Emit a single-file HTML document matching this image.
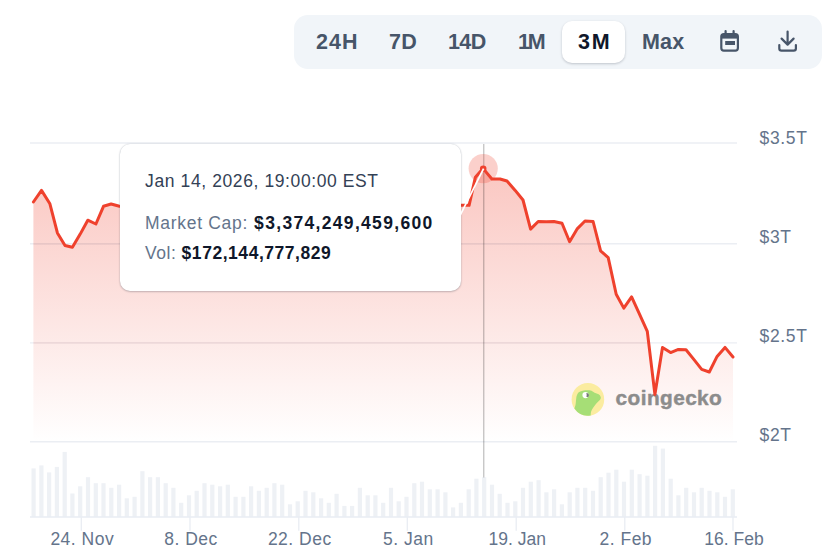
<!DOCTYPE html>
<html><head><meta charset="utf-8"><title>Chart</title>
<style>
html,body{margin:0;padding:0;background:#fff;}
body{width:836px;height:553px;position:relative;overflow:hidden;font-family:"Liberation Sans",sans-serif;}
.bar{position:absolute;left:294px;top:15px;width:528px;height:54px;background:#f1f5f9;border-radius:14px;}
.bar span{position:absolute;top:0;height:54px;line-height:54px;font-size:21.5px;font-weight:bold;color:#475569;white-space:nowrap;letter-spacing:0.2px;}
.pill{position:absolute;left:268px;top:6px;width:63px;height:42px;background:#fff;border-radius:10px;box-shadow:0 1px 3px rgba(15,23,42,.14),0 1px 2px rgba(15,23,42,.08);}
.tip{position:absolute;left:120.1px;top:144.3px;width:340.6px;height:146.4px;background:#fff;border-radius:10px;box-shadow:0 1px 2px rgba(15,23,42,.20),0 0 1.5px rgba(71,85,105,.30);}
.tip div{position:absolute;white-space:nowrap;font-size:17.5px;color:#64748b;}
.tip b{color:#0f172a;}
svg{position:absolute;left:0;top:0;}
svg text{font-family:"Liberation Sans",sans-serif;}
</style></head><body>
<div class="bar">
<div class="pill"></div>
<span style="left:22px;letter-spacing:1.1px">24H</span>
<span style="left:95px">7D</span>
<span style="left:154px;letter-spacing:-0.6px">14D</span>
<span style="left:224px;letter-spacing:-2.1px">1M</span>
<span style="left:284px;color:#0f172a;letter-spacing:1.8px">3M</span>
<span style="left:348px">Max</span>
</div>
<svg width="836" height="553" viewBox="0 0 836 553">
<defs><linearGradient id="g" x1="0" y1="0" x2="0" y2="1" gradientUnits="userSpaceOnUse" >
<stop offset="0" stop-color="#f04a38" stop-opacity="0.30"/><stop offset="1" stop-color="#f04a38" stop-opacity="0.02"/></linearGradient>
<linearGradient id="g2" x1="0" y1="143" x2="0" y2="442" gradientUnits="userSpaceOnUse">
<stop offset="0" stop-color="#f04a38" stop-opacity="0.34"/><stop offset="1" stop-color="#f04a38" stop-opacity="0"/></linearGradient>
<clipPath id="ac"><path d="M33.4 202.0 L41.5 190.4 L49.9 203.8 L57.4 232.9 L65.0 245.5 L72.4 247.3 L80.2 234.1 L87.8 220.2 L95.9 224.0 L103.5 206.3 L111.1 204.0 L119.4 206.3 L150.0 207.4 L200.0 206.4 L300.0 205.4 L400.0 205.4 L460.2 205.3 L469.1 205.3 L475.4 177.2 L483.0 168.4 L491.9 179.0 L500.0 179.0 L507.0 181.0 L515.2 190.4 L523.0 200.0 L530.6 229.1 L538.2 221.5 L546.3 221.7 L553.9 221.5 L562.0 223.3 L569.6 241.7 L577.4 228.6 L585.0 221.0 L593.1 221.5 L600.6 250.8 L608.2 257.6 L616.2 294.2 L623.8 308.1 L631.6 296.9 L639.6 314.4 L647.3 331.4 L654.9 394.4 L662.5 347.4 L670.6 352.6 L678.4 349.4 L686.0 349.7 L694.0 359.6 L701.7 369.4 L709.3 372.0 L717.1 356.4 L725.0 347.4 L733.0 357.0 L733.0 441 L33.4 441 Z"/></clipPath></defs>
<g stroke="#ebeef3" fill="none"><path d="M30 142.9H737" stroke-width="1.5"/><path d="M30 243.8H737" stroke-width="1.5"/><path d="M30 342.9H737" stroke-width="1.2"/><path d="M30 441.8H737" stroke-width="1.5"/></g>
<path d="M33.4 202.0 L41.5 190.4 L49.9 203.8 L57.4 232.9 L65.0 245.5 L72.4 247.3 L80.2 234.1 L87.8 220.2 L95.9 224.0 L103.5 206.3 L111.1 204.0 L119.4 206.3 L150.0 207.4 L200.0 206.4 L300.0 205.4 L400.0 205.4 L460.2 205.3 L469.1 205.3 L475.4 177.2 L483.0 168.4 L491.9 179.0 L500.0 179.0 L507.0 181.0 L515.2 190.4 L523.0 200.0 L530.6 229.1 L538.2 221.5 L546.3 221.7 L553.9 221.5 L562.0 223.3 L569.6 241.7 L577.4 228.6 L585.0 221.0 L593.1 221.5 L600.6 250.8 L608.2 257.6 L616.2 294.2 L623.8 308.1 L631.6 296.9 L639.6 314.4 L647.3 331.4 L654.9 394.4 L662.5 347.4 L670.6 352.6 L678.4 349.4 L686.0 349.7 L694.0 359.6 L701.7 369.4 L709.3 372.0 L717.1 356.4 L725.0 347.4 L733.0 357.0 L733.0 441 L33.4 441 Z" fill="url(#g2)"/>
<g stroke="#e3c3c3" stroke-width="1.2" fill="none" clip-path="url(#ac)"><path d="M33.4 243.8H733" opacity="0.6"/><path d="M33.4 342.9H733" opacity="0.35"/></g>
<g fill="#eef1f5"><rect x="31.5" y="468.4" width="4.2" height="48.5"/><rect x="39.3" y="465.4" width="4.2" height="51.5"/><rect x="47.0" y="472.4" width="4.2" height="44.5"/><rect x="54.8" y="466.9" width="4.2" height="50.0"/><rect x="62.6" y="451.9" width="4.2" height="65.0"/><rect x="70.3" y="493.5" width="4.2" height="23.4"/><rect x="78.1" y="486.3" width="4.2" height="30.6"/><rect x="85.9" y="477.2" width="4.2" height="39.7"/><rect x="93.7" y="483.2" width="4.2" height="33.7"/><rect x="101.4" y="483.2" width="4.2" height="33.7"/><rect x="109.2" y="487.8" width="4.2" height="29.1"/><rect x="117.0" y="484.7" width="4.2" height="32.2"/><rect x="124.7" y="498.3" width="4.2" height="18.6"/><rect x="132.5" y="496.8" width="4.2" height="20.1"/><rect x="140.3" y="471.2" width="4.2" height="45.7"/><rect x="148.0" y="477.2" width="4.2" height="39.7"/><rect x="155.8" y="477.2" width="4.2" height="39.7"/><rect x="163.6" y="483.2" width="4.2" height="33.7"/><rect x="171.3" y="487.8" width="4.2" height="29.1"/><rect x="179.1" y="502.8" width="4.2" height="14.1"/><rect x="186.9" y="495.3" width="4.2" height="21.6"/><rect x="194.6" y="490.8" width="4.2" height="26.1"/><rect x="202.4" y="483.2" width="4.2" height="33.7"/><rect x="210.2" y="484.7" width="4.2" height="32.2"/><rect x="218.0" y="486.3" width="4.2" height="30.6"/><rect x="225.7" y="484.7" width="4.2" height="32.2"/><rect x="233.5" y="496.8" width="4.2" height="20.1"/><rect x="241.3" y="496.8" width="4.2" height="20.1"/><rect x="249.0" y="486.3" width="4.2" height="30.6"/><rect x="256.8" y="490.8" width="4.2" height="26.1"/><rect x="264.6" y="487.8" width="4.2" height="29.1"/><rect x="272.3" y="483.2" width="4.2" height="33.7"/><rect x="280.1" y="484.7" width="4.2" height="32.2"/><rect x="287.9" y="504.3" width="4.2" height="12.6"/><rect x="295.6" y="501.3" width="4.2" height="15.6"/><rect x="303.4" y="490.8" width="4.2" height="26.1"/><rect x="311.2" y="492.3" width="4.2" height="24.6"/><rect x="319.0" y="498.3" width="4.2" height="18.6"/><rect x="326.7" y="502.8" width="4.2" height="14.1"/><rect x="334.5" y="493.8" width="4.2" height="23.1"/><rect x="342.3" y="505.9" width="4.2" height="11.0"/><rect x="350.0" y="505.9" width="4.2" height="11.0"/><rect x="357.8" y="487.8" width="4.2" height="29.1"/><rect x="365.6" y="495.3" width="4.2" height="21.6"/><rect x="373.3" y="495.3" width="4.2" height="21.6"/><rect x="381.1" y="502.8" width="4.2" height="14.1"/><rect x="388.9" y="487.8" width="4.2" height="29.1"/><rect x="396.6" y="501.3" width="4.2" height="15.6"/><rect x="404.4" y="496.8" width="4.2" height="20.1"/><rect x="412.2" y="483.2" width="4.2" height="33.7"/><rect x="419.9" y="481.7" width="4.2" height="35.2"/><rect x="427.7" y="489.3" width="4.2" height="27.6"/><rect x="435.5" y="489.3" width="4.2" height="27.6"/><rect x="443.3" y="492.3" width="4.2" height="24.6"/><rect x="451.0" y="507.4" width="4.2" height="9.5"/><rect x="458.8" y="502.8" width="4.2" height="14.1"/><rect x="466.6" y="489.3" width="4.2" height="27.6"/><rect x="474.3" y="478.7" width="4.2" height="38.2"/><rect x="482.1" y="477.2" width="4.2" height="39.7"/><rect x="489.9" y="484.7" width="4.2" height="32.2"/><rect x="497.6" y="493.8" width="4.2" height="23.1"/><rect x="505.4" y="502.8" width="4.2" height="14.1"/><rect x="513.2" y="501.3" width="4.2" height="15.6"/><rect x="520.9" y="487.8" width="4.2" height="29.1"/><rect x="528.7" y="481.7" width="4.2" height="35.2"/><rect x="536.5" y="480.2" width="4.2" height="36.7"/><rect x="544.3" y="492.3" width="4.2" height="24.6"/><rect x="552.0" y="489.3" width="4.2" height="27.6"/><rect x="559.8" y="504.3" width="4.2" height="12.6"/><rect x="567.6" y="492.3" width="4.2" height="24.6"/><rect x="575.3" y="487.8" width="4.2" height="29.1"/><rect x="583.1" y="487.8" width="4.2" height="29.1"/><rect x="590.9" y="490.8" width="4.2" height="26.1"/><rect x="598.6" y="477.2" width="4.2" height="39.7"/><rect x="606.4" y="472.7" width="4.2" height="44.2"/><rect x="614.2" y="469.7" width="4.2" height="47.2"/><rect x="621.9" y="481.7" width="4.2" height="35.2"/><rect x="629.7" y="469.7" width="4.2" height="47.2"/><rect x="637.5" y="474.2" width="4.2" height="42.7"/><rect x="645.3" y="475.7" width="4.2" height="41.2"/><rect x="653.0" y="445.8" width="4.2" height="71.1"/><rect x="660.8" y="448.6" width="4.2" height="68.3"/><rect x="668.6" y="478.7" width="4.2" height="38.2"/><rect x="676.3" y="495.3" width="4.2" height="21.6"/><rect x="684.1" y="487.8" width="4.2" height="29.1"/><rect x="691.9" y="492.3" width="4.2" height="24.6"/><rect x="699.6" y="487.8" width="4.2" height="29.1"/><rect x="707.4" y="490.8" width="4.2" height="26.1"/><rect x="715.2" y="492.3" width="4.2" height="24.6"/><rect x="722.9" y="496.8" width="4.2" height="20.1"/><rect x="730.7" y="489.3" width="4.2" height="27.6"/></g>
<path d="M30 516.9H737" stroke="#e9edf3" stroke-width="1.5"/>
<g stroke="#e9edf3" stroke-width="1.3"><path d="M81.3 516.9V530.8"/><path d="M190.0 516.9V530.8"/><path d="M298.8 516.9V530.8"/><path d="M407.3 516.9V530.8"/><path d="M516.2 516.9V530.8"/><path d="M624.8 516.9V530.8"/><path d="M733.0 516.9V530.8"/></g>
<path d="M483.72 144V477.5" stroke="#000" stroke-opacity="0.215" stroke-width="1.45"/>
<!-- watermark -->
<circle cx="587.9" cy="399.4" r="16.3" fill="#fbeca0"/>
<path d="M574.4 408.6 L575.5 405 C576 402 575.8 401 576.2 398.7 C576.4 397 576.5 396 577.1 394.7 C578 392.8 578.8 392 580.3 391.5 C581.8 390.8 583.5 390.4 585.1 390.3 C587 390.1 589.6 390.1 591.5 390.7 C592.7 391.2 593.6 392.1 594.6 392.7 C596 393.4 597.4 393.6 598.6 394.3 C599.6 394.9 600.3 395.7 600.6 396.7 C600.9 397.5 600.9 398 600.6 398.7 C600 400 598.8 400.9 597.8 401.9 C596.6 403.1 595.6 404.4 594.6 405.8 C593.6 407.1 592.6 408.3 591.9 409.8 C591.4 410.8 591 411.9 590.8 413 L590.7 415.4 A16.3 16.3 0 0 1 574.4 408.6Z" fill="#a6de76"/>
<circle cx="585.5" cy="395.1" r="3.1" fill="#fff"/><path d="M586.3 393.2 A1.9 1.9 0 0 1 586.3 397 A3 3 0 0 0 586.3 393.2Z M586.6 393.3a1.9 1.9 0 1 1 0 3.7z" fill="#777"/>
<text x="615.6" y="405" font-size="20.8" font-weight="bold" fill="#8c8c8c" stroke="#8c8c8c" stroke-width="0.45" stroke-linejoin="round" letter-spacing="0.42">coingecko</text>
<path d="M33.4 202.0 L41.5 190.4 L49.9 203.8 L57.4 232.9 L65.0 245.5 L72.4 247.3 L80.2 234.1 L87.8 220.2 L95.9 224.0 L103.5 206.3 L111.1 204.0 L119.4 206.3 L150.0 207.4 L200.0 206.4 L300.0 205.4 L400.0 205.4 L460.2 205.3 L469.1 205.3 L475.4 177.2 L483.0 168.4 L491.9 179.0 L500.0 179.0 L507.0 181.0 L515.2 190.4 L523.0 200.0 L530.6 229.1 L538.2 221.5 L546.3 221.7 L553.9 221.5 L562.0 223.3 L569.6 241.7 L577.4 228.6 L585.0 221.0 L593.1 221.5 L600.6 250.8 L608.2 257.6 L616.2 294.2 L623.8 308.1 L631.6 296.9 L639.6 314.4 L647.3 331.4 L654.9 394.4 L662.5 347.4 L670.6 352.6 L678.4 349.4 L686.0 349.7 L694.0 359.6 L701.7 369.4 L709.3 372.0 L717.1 356.4 L725.0 347.4 L733.0 357.0" fill="none" stroke="#ef412d" stroke-width="3" stroke-linejoin="round" stroke-linecap="round"/>
<circle cx="483.2" cy="168.6" r="14.6" fill="#f04a38" fill-opacity="0.26"/>
<circle cx="483.2" cy="168.7" r="3.3" fill="#ef412d"/>
<g font-size="17.5" fill="#64748b" letter-spacing="0.65"><text x="759.5" y="144">$3.5T</text><text x="759.5" y="242.9">$3T</text><text x="759.5" y="341.7">$2.5T</text><text x="759.5" y="440.8">$2T</text></g>
<g font-size="17.5" fill="#64748b" letter-spacing="0.5"><text x="82.3" y="544.5" text-anchor="middle">24. Nov</text><text x="191.0" y="544.5" text-anchor="middle">8. Dec</text><text x="299.8" y="544.5" text-anchor="middle">22. Dec</text><text x="408.3" y="544.5" text-anchor="middle">5. Jan</text><text x="517.2" y="544.5" text-anchor="middle" letter-spacing="0">19. Jan</text><text x="625.8" y="544.5" text-anchor="middle">2. Feb</text><text x="734.0" y="544.5" text-anchor="middle" letter-spacing="0">16. Feb</text></g>
</svg>
<div class="tip">
<div style="left:25px;top:26.7px;color:#334155;letter-spacing:0.6px">Jan 14, 2026, 19:00:00 EST</div>
<div style="left:25px;top:68.7px;letter-spacing:0.69px">Market Cap:</div>
<div style="left:134px;top:68.7px;letter-spacing:1.32px"><b>$3,374,249,459,600</b></div>
<div style="left:25px;top:98.7px;letter-spacing:0.5px">Vol:</div>
<div style="left:61.5px;top:98.7px;letter-spacing:0.54px"><b>$172,144,777,829</b></div>
</div>
<svg width="836" height="553" viewBox="0 0 836 553" style="pointer-events:none">
<path d="M460 215.6L483.6 168.6" stroke="#fff" stroke-width="1.7"/>
<!-- icons -->
<g fill="none" stroke="#475569" stroke-width="2.2" stroke-linecap="round" stroke-linejoin="round">
<rect x="721.3" y="34" width="16.6" height="16.6" rx="2.6"/>
<path d="M725.6 31V34M733.6 31V34"/>
<path d="M787.6 31.5V44M781.6 38.6L787.6 44.6L793.6 38.6"/>
<path d="M779.3 45V48.4a2.2 2.2 0 0 0 2.2 2.2h12.2a2.2 2.2 0 0 0 2.2-2.2V45"/>
</g>
<rect x="721.3" y="34" width="16.6" height="4.6" fill="#475569"/>
<rect x="725.2" y="41" width="9.8" height="4" fill="#475569"/>
</svg>
</body></html>
